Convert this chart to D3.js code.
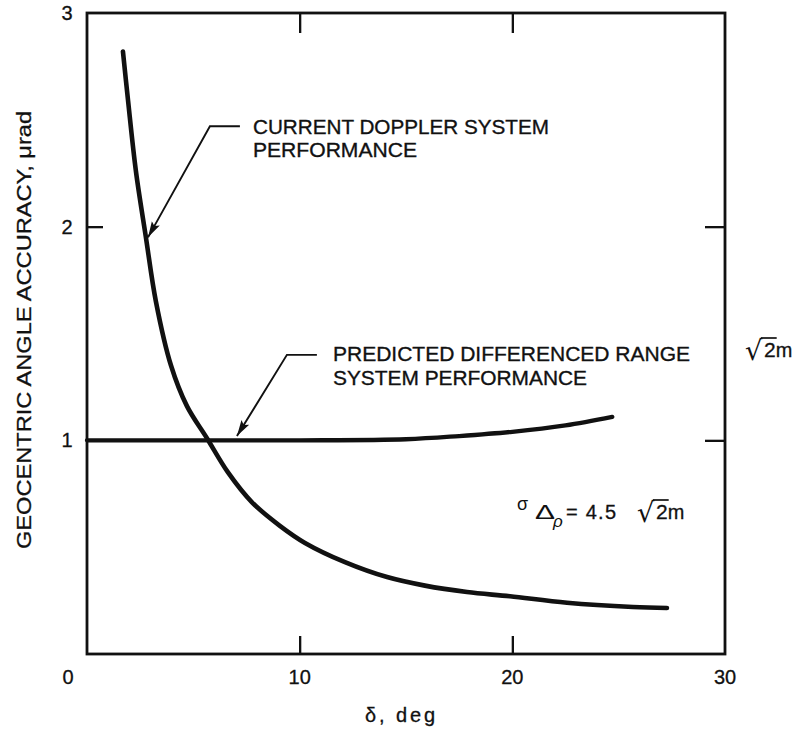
<!DOCTYPE html>
<html><head><meta charset="utf-8">
<script src="https://cdn.jsdelivr.net/npm/d3@7"></script>
<style>html,body{margin:0;padding:0;background:#fff;} svg{display:block;}</style>
</head><body>
<svg id="chart" width="801" height="733"></svg>
<script>
// ---- data ----
const xTickValues = [10, 20, 30];
const xTickLabels = ["10", "20", "30"];
const yTickValues = [1, 2, 3];
const yTickLabels = ["1", "2", "3"];
const originLabel = "0";

const dopplerX = [1.69, 1.93, 2.30, 2.77, 3.24, 3.95, 4.70, 5.64, 6.63, 7.76, 9.07, 10.25, 12.13, 14.11, 15.89, 17.87, 19.89, 22.57, 25.67, 27.27];
const dopplerY = [2.82, 2.59, 2.26, 1.95, 1.65, 1.35, 1.16, 1.01, 0.85, 0.71, 0.60, 0.52, 0.43, 0.36, 0.32, 0.29, 0.27, 0.24, 0.22, 0.215];

const predictedX = [0, 5, 10, 15, 17.5, 20, 22.5, 24.7];
const predictedY = [1.0, 1.0, 1.0, 1.005, 1.02, 1.04, 1.07, 1.11];

const xTitle = "δ, deg";
const yTitle = "GEOCENTRIC ANGLE ACCURACY, μrad";
const dopplerLabel = ["CURRENT DOPPLER SYSTEM", "PERFORMANCE"];
const predictedLabel = ["PREDICTED DIFFERENCED RANGE", "SYSTEM PERFORMANCE"];

// ---- layout ----
const svg = d3.select("#chart");
const FONT = "'Liberation Sans', Arial, sans-serif";
const INK = "#111";
const x = d3.scaleLinear().domain([0, 30]).range([87, 725]);
const y = d3.scaleLinear().domain([0, 3]).range([654, 13]);

svg.append("rect").attr("width", 801).attr("height", 733).attr("fill", "#fff");

// frame
svg.append("rect")
  .attr("x", x(0)).attr("y", y(3))
  .attr("width", x(30) - x(0)).attr("height", y(0) - y(3))
  .attr("fill", "none").attr("stroke", INK).attr("stroke-width", 2.8);

const T = 18;
const axB = svg.append("g").attr("transform", `translate(0,${y(0)})`)
  .call(d3.axisBottom(x).tickValues([10, 20]).tickSize(-T).tickFormat(""));
const axT = svg.append("g").attr("transform", `translate(0,${y(3)})`)
  .call(d3.axisTop(x).tickValues([10, 20]).tickSize(-T - 2).tickFormat(""));
const axL = svg.append("g").attr("transform", `translate(${x(0)},0)`)
  .call(d3.axisLeft(y).tickValues([1, 2]).tickSize(-T + 2).tickFormat(""));
const axR = svg.append("g").attr("transform", `translate(${x(30)},0)`)
  .call(d3.axisRight(y).tickValues([1, 2]).tickSize(-T - 2).tickFormat(""));
[axB, axT, axL, axR].forEach(g => {
  g.select(".domain").remove();
  g.selectAll("line").attr("stroke", INK).attr("stroke-width", 2.3);
});

// tick labels
const tickStyle = sel => sel.attr("font-family", FONT).attr("font-size", 20).attr("fill", INK)
  .attr("stroke", INK).attr("stroke-width", 0.3).attr("text-anchor", "middle");
svg.append("g").selectAll("text").data(xTickValues).join("text")
  .attr("x", d => x(d)).attr("y", y(0) + 30).call(tickStyle)
  .text((d, i) => xTickLabels[i]);
svg.append("text").attr("x", x(0) - 19).attr("y", y(0) + 30).call(tickStyle).text(originLabel);
svg.append("g").selectAll("text").data(yTickValues).join("text")
  .attr("x", x(0) - 20).attr("y", d => y(d) + 7).call(tickStyle)
  .text((d, i) => yTickLabels[i]);

// axis titles
svg.append("text").attr("x", 400).attr("y", 722)
  .attr("text-anchor", "middle").attr("font-family", FONT).attr("font-size", 20).attr("fill", INK)
  .attr("stroke", INK).attr("stroke-width", 0.3)
  .attr("textLength", 70).attr("lengthAdjust", "spacing")
  .text(xTitle);
svg.append("text")
  .attr("transform", "translate(31,330) rotate(-90)")
  .attr("text-anchor", "middle").attr("font-family", FONT).attr("font-size", 21).attr("fill", INK)
  .attr("stroke", INK).attr("stroke-width", 0.3)
  .attr("textLength", 438).attr("lengthAdjust", "spacingAndGlyphs")
  .text(yTitle);

// curves
const line = d3.line().x(d => x(d[0])).y(d => y(d[1])).curve(d3.curveCatmullRom.alpha(0.5));
svg.append("path").datum(d3.zip(dopplerX, dopplerY)).attr("d", line)
  .attr("fill", "none").attr("stroke", INK).attr("stroke-width", 4.6)
  .attr("stroke-linecap", "round").attr("stroke-linejoin", "round");
svg.append("path").datum(d3.zip(predictedX, predictedY)).attr("d", line)
  .attr("fill", "none").attr("stroke", INK).attr("stroke-width", 4.3)
  .attr("stroke-linecap", "round").attr("stroke-linejoin", "round");

// arrowhead marker
svg.append("defs").append("marker")
  .attr("id", "arr").attr("markerUnits", "userSpaceOnUse")
  .attr("markerWidth", 18).attr("markerHeight", 12)
  .attr("refX", 16).attr("refY", 6).attr("orient", "auto")
  .append("path").attr("d", "M0,1.5 L16,6 L0,10.5 L3,6 Z").attr("fill", INK);

// annotation leaders (data-space: end, elbow, tip)
const dopplerLeader = [[7.19, 2.47], [5.78, 2.47], [2.87, 1.95]];
const predictedLeader = [[10.81, 1.40], [9.4, 1.40], [7.05, 1.02]];
const leader = d3.line().x(d => x(d[0])).y(d => y(d[1]));
[dopplerLeader, predictedLeader].forEach(pts => {
  svg.append("path").attr("d", leader(pts))
    .attr("fill", "none").attr("stroke", INK).attr("stroke-width", 1.9)
    .attr("marker-end", "url(#arr)");
});

function labelBlock(lines, x0, y0, lh, widths) {
  lines.forEach((t, i) => {
    svg.append("text").attr("x", x0).attr("y", y0 + i * lh)
      .attr("font-family", FONT).attr("font-size", 20.5).attr("fill", INK)
      .attr("stroke", INK).attr("stroke-width", 0.35)
      .attr("textLength", widths[i]).attr("lengthAdjust", "spacingAndGlyphs")
      .text(t);
  });
}
labelBlock(dopplerLabel, 253, 134, 23, [296, 164]);
labelBlock(predictedLabel, 333, 361, 24, [357, 254]);

// sqrt(2) m helper
function sqrt2m(x0, base, size) {
  const g = svg.append("g");
  const rad = g.append("text").attr("x", x0).attr("y", base + 3)
    .attr("font-family", "'DejaVu Sans', sans-serif").attr("font-size", size * 1.3).attr("fill", INK)
    .text("√");
  const rb = rad.node().getBBox();
  const tx = rb.x + rb.width - 1;
  const two = g.append("text").attr("x", tx + 2).attr("y", base)
    .attr("font-family", FONT).attr("font-size", size).attr("fill", INK)
    .attr("stroke", INK).attr("stroke-width", 0.3);
  two.append("tspan").text("2");
  two.append("tspan").attr("font-size", size * 0.95).text("m");
  const tmp = g.append("text").attr("font-family", FONT).attr("font-size", size).text("2");
  const w2 = tmp.node().getComputedTextLength();
  tmp.remove();
  g.append("line").attr("x1", tx - 1).attr("x2", tx + 2 + w2 + 1)
    .attr("y1", rb.y + 3).attr("y2", rb.y + 3)
    .attr("stroke", INK).attr("stroke-width", 1.7);
}

// sigma formula
const sigBase = 519;
svg.append("text").attr("x", 517).attr("y", sigBase - 9)
  .attr("font-family", FONT).attr("font-size", 18).attr("fill", INK).text("σ");
svg.append("text").attr("x", 535).attr("y", sigBase)
  .attr("font-family", FONT).attr("font-size", 21).attr("fill", INK)
  .attr("textLength", 20).attr("lengthAdjust", "spacingAndGlyphs").text("Δ");
svg.append("text").attr("x", 553).attr("y", sigBase + 8)
  .attr("font-family", FONT).attr("font-size", 17).attr("font-style", "italic").attr("fill", INK).text("ρ");
svg.append("text").attr("x", 566).attr("y", sigBase)
  .attr("font-family", FONT).attr("font-size", 20).attr("fill", INK)
  .attr("stroke", INK).attr("stroke-width", 0.3)
  .attr("textLength", 50).attr("lengthAdjust", "spacing").text("= 4.5");
sqrt2m(637, sigBase, 21);

// right-side sqrt(2) m
sqrt2m(745, 357, 21);
</script>
</body></html>
